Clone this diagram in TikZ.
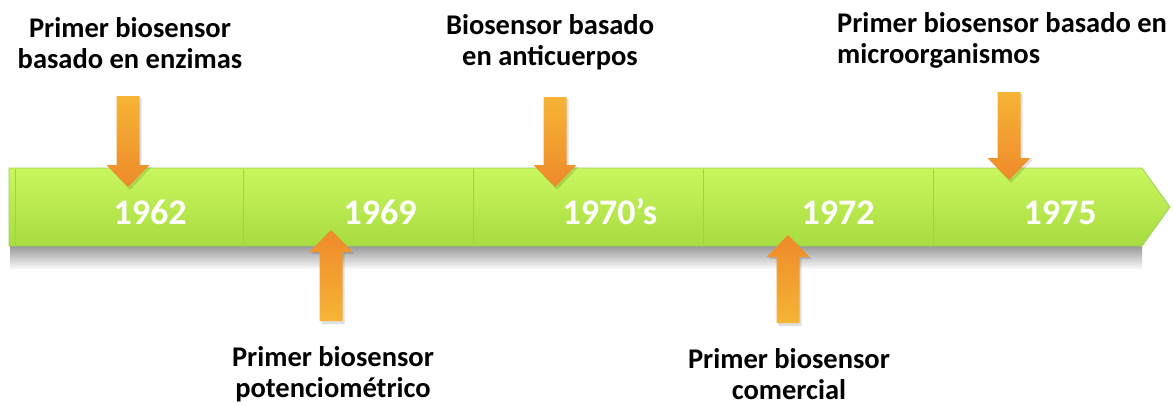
\documentclass[tikz,border=0pt]{standalone}
\usepackage{fontspec}
\setmainfont{Carlito}
\definecolor{barTop}{HTML}{C9F65E}
\definecolor{barBot}{HTML}{A8DC40}
\definecolor{barEdge}{HTML}{9CCF62}
\definecolor{arLight}{HTML}{F6B436}
\definecolor{arDark}{HTML}{EE8A2A}
\newcommand\DownBlk[3]{%
  \fill[black,opacity=0.12] (#1-10.5,#2+2) -- (#1+13.5,#2+2) -- (#1+13.5,#3-20) -- (#1+23.5,#3-20) -- (#1+2,#3+3) -- (#1-19.5,#3-20) -- (#1-10.5,#3-20) -- cycle;
  \shade[top color=arLight,bottom color=arDark] (#1-11.5,#2) -- (#1+11.5,#2) -- (#1+11.5,#3-22) -- (#1+21.5,#3-22) -- (#1,#3) -- (#1-21.5,#3-22) -- (#1-11.5,#3-22) -- cycle;}
\newcommand\UpBlk[3]{%
  \fill[black,opacity=0.12] (#1-9.5,#2+3) -- (#1+13.5,#2+3) -- (#1+13.5,#3+24) -- (#1+23.5,#3+24) -- (#1+2,#3+2) -- (#1-19.5,#3+24) -- (#1-9.5,#3+24) -- cycle;
  \shade[top color=arDark,bottom color=arLight] (#1-11.5,#2) -- (#1+11.5,#2) -- (#1+11.5,#3+22) -- (#1+21.5,#3+22) -- (#1,#3) -- (#1-21.5,#3+22) -- (#1-11.5,#3+22) -- cycle;}
\tikzset{
  lbl/.style={font=\bfseries\fontsize{28.5}{31}\selectfont, text=black, inner sep=0pt, anchor=base},
  yr/.style={font=\bfseries\fontsize{36}{40}\selectfont, text=white, inner sep=0pt, anchor=base},
  divider/.style={draw=barEdge, line width=1pt}
}
\begin{document}
\begin{tikzpicture}[x=1pt,y=-1pt]
\useasboundingbox (0,0) rectangle (1174,405);
% shadow under the bar
\shade[top color=black!40, bottom color=white] (10,246) rectangle (1142,270);
% bar
\shade[top color=barTop, bottom color=barBot] (9,168) -- (1142,168) -- (1170,207) -- (1142,246) -- (9,246) -- cycle;
\draw[barEdge, line width=0.8pt] (9,168) -- (1142,168) -- (1170,207) -- (1142,246) -- (9,246) -- cycle;
\foreach \dx in {15,243,473,703,933} \draw[divider] (\dx,169) -- (\dx,245);
% years
\node[yr] (y1) at (150,224) {1962};
\node[yr] (y2) at (380,224) {1969};
\node[yr] (y3) at (610,224) {1970’s};
\node[yr] (y4) at (838,224) {1972};
\node[yr] (y5) at (1060,224) {1975};
% arrows
\DownBlk{128}{96}{187}
\UpBlk{331}{321}{230}
\DownBlk{555}{97}{187}
\UpBlk{788}{323}{235}
\DownBlk{1009}{92}{180}
% labels (anchor = baseline of the last line)
\node[lbl, align=center] (l1) at (130,68) {Primer biosensor\\basado en enzimas};
\node[lbl, align=center] (l2) at (333,397) {Primer biosensor\\potenciométrico};
\node[lbl, align=center] (l3) at (550,65) {Biosensor basado\\en anticuerpos};
\node[lbl, align=center] (l4) at (789,399) {Primer biosensor\\comercial};
\node[lbl, align=left, anchor=base west] (l5) at (837,63) {Primer biosensor basado en\\microorganismos};
\end{tikzpicture}
\end{document}
